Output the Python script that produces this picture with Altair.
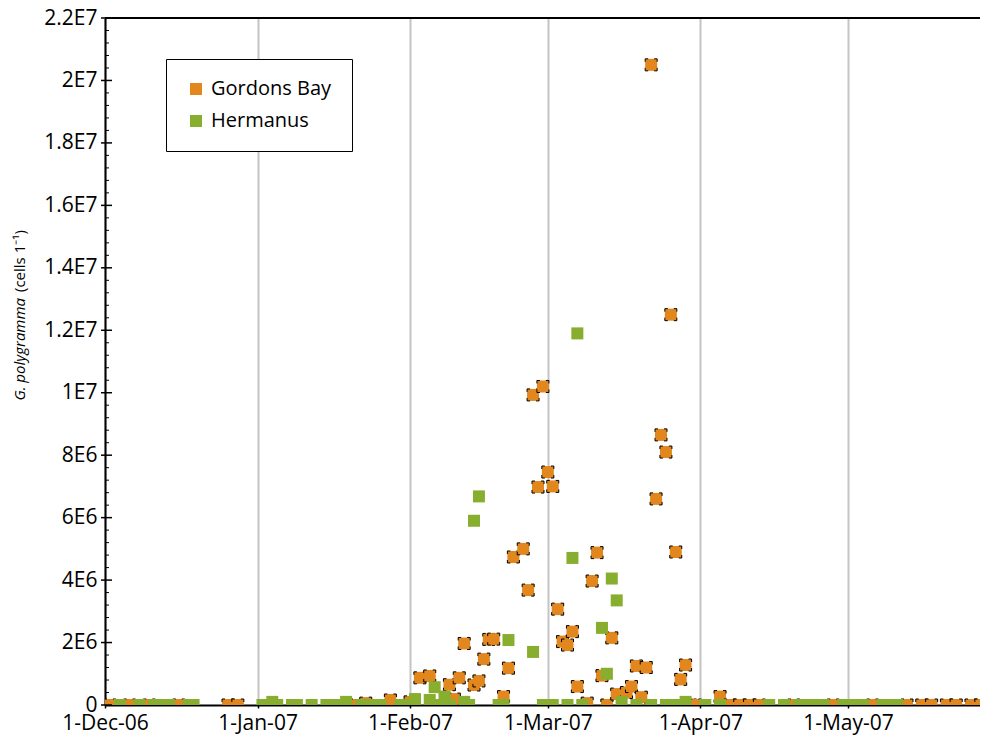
import altair as alt
import pandas as pd

# Gordons Bay (orange)
gb_dates = [
    "2006-12-02", "2006-12-06", "2006-12-10", "2006-12-16", "2006-12-26", "2006-12-28",
    "2007-01-21", "2007-01-23", "2007-01-28", "2007-02-01",
    "2007-02-03", "2007-02-05", "2007-02-09", "2007-02-10", "2007-02-11", "2007-02-12",
    "2007-02-14", "2007-02-15", "2007-02-16", "2007-02-17", "2007-02-18", "2007-02-20",
    "2007-02-21", "2007-02-22", "2007-02-24", "2007-02-25", "2007-02-26", "2007-02-27",
    "2007-02-28",
    "2007-03-01", "2007-03-02", "2007-03-03", "2007-03-04", "2007-03-05", "2007-03-06",
    "2007-03-07", "2007-03-09", "2007-03-10", "2007-03-11", "2007-03-12", "2007-03-13",
    "2007-03-14", "2007-03-15", "2007-03-17", "2007-03-18", "2007-03-19", "2007-03-20",
    "2007-03-21", "2007-03-22", "2007-03-23", "2007-03-24", "2007-03-25", "2007-03-26",
    "2007-03-27", "2007-03-28", "2007-03-29", "2007-03-30", "2007-03-31",
    "2007-04-05", "2007-04-07", "2007-04-09", "2007-04-11", "2007-04-13", "2007-04-20",
    "2007-04-28",
    "2007-05-06", "2007-05-13", "2007-05-16", "2007-05-18", "2007-05-21", "2007-05-23",
    "2007-05-26", "2007-05-28",
]
gb_values = [
    0, 0, 0, 0, 0, 0,
    0, 0.06e6, 0.16e6, 0.1e6,
    0.87e6, 0.93e6, 0.65e6, 0.19e6, 0.87e6, 1.97e6,
    0.64e6, 0.77e6, 1.47e6, 2.1e6, 2.11e6, 0.27e6,
    1.18e6, 4.74e6, 5.0e6, 3.68e6, 9.93e6, 6.98e6,
    10.2e6,
    7.46e6, 7.0e6, 3.07e6, 2.03e6, 1.92e6, 2.35e6,
    0.59e6, 0.06e6, 3.97e6, 4.88e6, 0.94e6, 0,
    2.15e6, 0.35e6, 0.4e6, 0.59e6, 1.25e6, 0.25e6,
    1.2e6, 20.5e6, 6.6e6, 8.65e6, 8.1e6, 12.5e6,
    4.9e6, 0.82e6, 1.28e6, 0, 0,
    0.27e6, 0, 0, 0, 0, 0,
    0,
    0, 0, 0, 0, 0, 0,
    0, 0,
]

# Hermanus (green)
he_dates = [
    "2006-12-04", "2006-12-08", "2006-12-11", "2006-12-13", "2006-12-14", "2006-12-18",
    "2006-12-19",
    "2007-01-02", "2007-01-04", "2007-01-05", "2007-01-08", "2007-01-09", "2007-01-12",
    "2007-01-15", "2007-01-17", "2007-01-19", "2007-01-22", "2007-01-24", "2007-01-26",
    "2007-01-30", "2007-01-31",
    "2007-02-02", "2007-02-05", "2007-02-06", "2007-02-07", "2007-02-08", "2007-02-09",
    "2007-02-12", "2007-02-13", "2007-02-14", "2007-02-15", "2007-02-19", "2007-02-20",
    "2007-02-21", "2007-02-26", "2007-02-28",
    "2007-03-02", "2007-03-05", "2007-03-06", "2007-03-07", "2007-03-08", "2007-03-12",
    "2007-03-13", "2007-03-14", "2007-03-15", "2007-03-16", "2007-03-19", "2007-03-22",
    "2007-03-25", "2007-03-27", "2007-03-29",
    "2007-04-02", "2007-04-05", "2007-04-15", "2007-04-18", "2007-04-21", "2007-04-23",
    "2007-04-25", "2007-04-26", "2007-04-30",
    "2007-05-02", "2007-05-04", "2007-05-08", "2007-05-09", "2007-05-11",
]
he_values = [
    0, 0, 0, 0, 0, 0,
    0,
    0, 0.1e6, 0, 0, 0, 0,
    0, 0, 0.1e6, 0, 0, 0,
    0, 0,
    0.19e6, 0.16e6, 0.57e6, 0, 0.27e6, 0,
    0.1e6, 0, 5.9e6, 6.68e6, 0, 0,
    2.08e6, 1.7e6, 0,
    0, 0, 4.71e6, 11.9e6, 0, 2.47e6,
    1.0e6, 4.05e6, 3.35e6, 0.1e6, 0, 0,
    0, 0, 0.1e6,
    0, 0, 0, 0, 0, 0,
    0, 0, 0,
    0, 0, 0, 0, 0,
]

series_names = ["Gordons Bay", "Hermanus"]
series_colors = ["#E2871E", "#88AE2F"]

y_major_ticks = [0, 2e6, 4e6, 6e6, 8e6, 10e6, 12e6, 14e6, 16e6, 18e6, 20e6, 22e6]
y_tick_labels = ["0", "2E6", "4E6", "6E6", "8E6", "1E7", "1.2E7", "1.4E7", "1.6E7",
                 "1.8E7", "2E7", "2.2E7"]
y_minor_ticks = [
    0.4e6, 0.8e6, 1.2e6, 1.6e6, 2.4e6, 2.8e6, 3.2e6, 3.6e6, 4.4e6, 4.8e6, 5.2e6, 5.6e6,
    6.4e6, 6.8e6, 7.2e6, 7.6e6, 8.4e6, 8.8e6, 9.2e6, 9.6e6, 10.4e6, 10.8e6, 11.2e6, 11.6e6,
    12.4e6, 12.8e6, 13.2e6, 13.6e6, 14.4e6, 14.8e6, 15.2e6, 15.6e6, 16.4e6, 16.8e6,
    17.2e6, 17.6e6, 18.4e6, 18.8e6, 19.2e6, 19.6e6, 20.4e6, 20.8e6, 21.2e6, 21.6e6,
]
x_ticks = [(2006, 12), (2007, 1), (2007, 2), (2007, 3), (2007, 4), (2007, 5)]

FONT = "Open Sans"
W, H = 875, 687

gb = pd.DataFrame({"date": gb_dates, "value": gb_values, "site": series_names[0]})
he = pd.DataFrame({"date": he_dates, "value": he_values, "site": series_names[1]})

label_expr = " : ".join(
    f"datum.value == {int(v)} ? '{lab}'" for v, lab in zip(y_major_ticks, y_tick_labels)
) + " : ''"

xscale = alt.Scale(
    type="utc",
    domain=[alt.DateTime(year=2006, month=12, date=1, utc=True),
            alt.DateTime(year=2007, month=5, date=27, hours=20, utc=True)],
)
yscale = alt.Scale(domain=[0, 22e6], nice=False, zero=True)

x_axis = alt.Axis(
    values=[alt.DateTime(year=y, month=m, date=1, utc=True) for y, m in x_ticks],
    labelExpr="utcFormat(datum.value, '%-d-%b-%y')",
    grid=True, gridColor="#C4C4C4", gridWidth=2,
    domainColor="black", domainWidth=2,
    tickColor="black", tickSize=3, tickWidth=1.5,
    labelFont=FONT, labelFontSize=21, labelColor="black", labelPadding=4,
    labelFlush=False, labelOverlap=False, title=None,
)
y_axis = alt.Axis(
    values=y_major_ticks, labelExpr=label_expr,
    grid=False, ticks=False,
    domainColor="black", domainWidth=2,
    labelFont=FONT, labelFontSize=21, labelColor="black", labelPadding=8,
    labelFlush=False, labelOverlap=False, title=None,
)

color = alt.Color(
    "site:N",
    scale=alt.Scale(domain=series_names, range=series_colors),
    legend=alt.Legend(
        title=None, orient="none", legendX=61, legendY=41,
        strokeColor="black", fillColor="white", padding=20,
        labelFont=FONT, labelFontSize=20, labelColor="black", labelOffset=5,
        symbolType="square", symbolSize=144, symbolStrokeWidth=0, symbolOpacity=1,
        rowPadding=12,
    ),
)

x_enc = alt.X("date:T", scale=xscale, axis=x_axis)
y_enc = alt.Y("value:Q", scale=yscale, axis=y_axis)

orange = alt.Chart(gb).mark_square(
    size=144, opacity=1, stroke="black", strokeWidth=1,
    strokeDash=[6, 6], strokeDashOffset=3, clip=True,
).encode(x=x_enc, y=y_enc, color=color)
green = alt.Chart(he).mark_square(size=144, opacity=1, clip=True).encode(
    x=x_enc, y=y_enc, color=color,
)

minor = alt.Chart(pd.DataFrame({"value": y_minor_ticks})).mark_rule(
    color="black", strokeWidth=1
).encode(y=y_enc, x=alt.value(0), x2=alt.value(4))
major = alt.Chart(pd.DataFrame({"value": y_major_ticks})).mark_rule(
    color="black", strokeWidth=1.5
).encode(y=y_enc, x=alt.value(-4), x2=alt.value(7))

top_border = alt.Chart(pd.DataFrame({"a": [0]})).mark_rule(
    color="black", strokeWidth=2
).encode(x=alt.value(0), x2=alt.value(W), y=alt.value(0))

title_it = alt.Chart(pd.DataFrame({"a": [0]})).mark_text(
    text="G. polygramma", angle=270, align="right", baseline="middle",
    font=FONT, fontSize=15, fontStyle="italic", color="black",
).encode(x=alt.value(-85), y=alt.value(280))
title_rest = alt.Chart(pd.DataFrame({"a": [0]})).mark_text(
    text="(cells 1\u207b\u00b9)", angle=270, align="left", baseline="middle",
    font=FONT, fontSize=15, color="black",
).encode(x=alt.value(-85), y=alt.value(274))

chart = alt.layer(
    orange, green, minor, major, top_border, title_it, title_rest
).properties(
    width=W, height=H,
    padding={"left": 97, "top": 10, "right": 0, "bottom": 30},
    autosize=alt.AutoSizeParams(type="none"),
).configure_view(stroke=None)

chart.save("out.html", embed_options={"renderer": "svg", "actions": False})
